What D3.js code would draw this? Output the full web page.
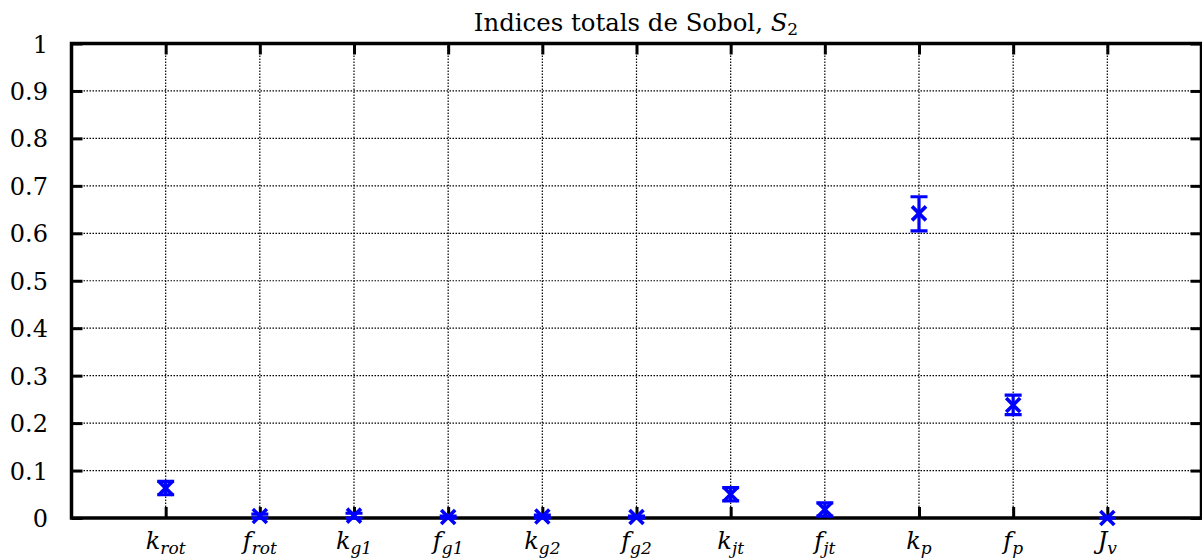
<!DOCTYPE html>
<html>
<head>
<meta charset="utf-8">
<script src="https://cdn.jsdelivr.net/npm/d3@7"></script>
<style>
  html, body { margin: 0; padding: 0; background: #fff; }
  svg { display: block; }
</style>
</head>
<body>
<svg id="chart" width="1202" height="558"></svg>
<script>
// Parameter symbols: base letter and subscript
const paramBase = ["k", "f", "k", "f", "k", "f", "k", "f", "k", "f", "J"];
const paramSub  = ["rot", "rot", "g1", "g1", "g2", "g2", "jt", "jt", "p", "p", "v"];

// Total Sobol index estimates and their confidence bounds
const sobolValue = [0.063, 0.004, 0.005, 0.002, 0.003, 0.002, 0.050, 0.018, 0.642, 0.238, 0.000];
const sobolLow   = [0.049, 0.000, 0.000, 0.000, 0.000, 0.000, 0.036, 0.004, 0.605, 0.218, 0.000];
const sobolHigh  = [0.077, 0.008, 0.010, 0.004, 0.006, 0.004, 0.064, 0.032, 0.677, 0.259, 0.000];

const yTicks = [0, 0.1, 0.2, 0.3, 0.4, 0.5, 0.6, 0.7, 0.8, 0.9, 1];
const yTickLabels = ["0", "0.1", "0.2", "0.3", "0.4", "0.5", "0.6", "0.7", "0.8", "0.9", "1"];

const serif = "DejaVu Serif";
const svg = d3.select("#chart");
const plotLeft = 71.5, plotRight = 1201.5, plotTop = 43.5, plotBottom = 518;

const x = d3.scaleLinear().domain([0, paramBase.length + 1]).range([plotLeft, plotRight]);
const y = d3.scaleLinear().domain([0, 1]).range([plotBottom, plotTop]);
const idx = d3.range(paramBase.length);

// dotted grid
const grid = svg.append("g").attr("stroke", "#000").attr("stroke-width", 1.2)
  .attr("stroke-dasharray", "1.5,1.5");
grid.selectAll("line.h").data(yTicks.slice(1, -1)).join("line")
  .attr("x1", plotLeft).attr("x2", plotRight)
  .attr("y1", d => y(d)).attr("y2", d => y(d));
grid.selectAll("line.v").data(idx).join("line")
  .attr("x1", i => x(i + 1)).attr("x2", i => x(i + 1))
  .attr("y1", plotTop).attr("y2", plotBottom);

// axes with inward ticks on all four sides
const tickLen = 11;
const axL = svg.append("g").attr("transform", `translate(${plotLeft},0)`)
  .call(d3.axisRight(y).tickValues(yTicks).tickSize(tickLen).tickFormat(""));
const axR = svg.append("g").attr("transform", `translate(${plotRight},0)`)
  .call(d3.axisLeft(y).tickValues(yTicks).tickSize(tickLen).tickFormat(""));
const xTickVals = idx.map(i => i + 1);
const axB = svg.append("g").attr("transform", `translate(0,${plotBottom})`)
  .call(d3.axisTop(x).tickValues(xTickVals).tickSize(tickLen).tickFormat(""));
const axT = svg.append("g").attr("transform", `translate(0,${plotTop})`)
  .call(d3.axisBottom(x).tickValues(xTickVals).tickSize(tickLen).tickFormat(""));
[axL, axR, axB, axT].forEach(a => {
  a.selectAll(".domain").remove();
  a.selectAll(".tick line").attr("stroke", "#000").attr("stroke-width", 3);
});

// frame
svg.append("rect")
  .attr("x", plotLeft).attr("y", plotTop)
  .attr("width", plotRight - plotLeft).attr("height", plotBottom - plotTop)
  .attr("fill", "none").attr("stroke", "#000").attr("stroke-width", 3.5);

// y tick labels
svg.append("g").selectAll("text").data(yTicks).join("text")
  .attr("x", 48).attr("y", d => y(d) + 9)
  .attr("text-anchor", "end").attr("font-size", 24)
  .attr("font-family", serif)
  .text((d, i) => yTickLabels[i]);

// x tick labels: italic symbol with subscript
const xl = svg.append("g").selectAll("text").data(idx).join("text")
  .attr("x", i => x(i + 1)).attr("y", 549)
  .attr("text-anchor", "middle").attr("font-size", 24).attr("font-style", "italic")
  .attr("font-family", serif);
xl.append("tspan").text(i => paramBase[i]);
xl.append("tspan").attr("font-size", 17).attr("dy", 5).text(i => paramSub[i]);

// title
const title = svg.append("text").attr("x", 636).attr("y", 31)
  .attr("text-anchor", "middle").attr("font-size", 24.4)
  .attr("font-family", serif);
title.append("tspan").text("Indices totals de Sobol, ");
title.append("tspan").attr("font-style", "italic").text("S");
title.append("tspan").attr("font-size", 17).attr("dy", 4).text("2");

// error bars and cross markers
const blue = "#0000ff";
const capW = 8.5, mk = 7;
const eb = svg.append("g").attr("stroke", blue).attr("stroke-width", 3.2).attr("fill", "none");
eb.selectAll("path.err").data(idx).join("path")
  .attr("d", i => {
    const cx = x(i + 1), y0 = y(sobolLow[i]), y1 = y(sobolHigh[i]);
    return `M${cx},${y0}V${y1}M${cx - capW},${y0}H${cx + capW}M${cx - capW},${y1}H${cx + capW}`;
  });
eb.selectAll("path.mk").data(idx).join("path")
  .attr("stroke-width", 3.6)
  .attr("d", i => {
    const cx = x(i + 1), cy = y(sobolValue[i]);
    return `M${cx - mk},${cy - mk}L${cx + mk},${cy + mk}M${cx - mk},${cy + mk}L${cx + mk},${cy - mk}`;
  });
</script>
</body>
</html>
